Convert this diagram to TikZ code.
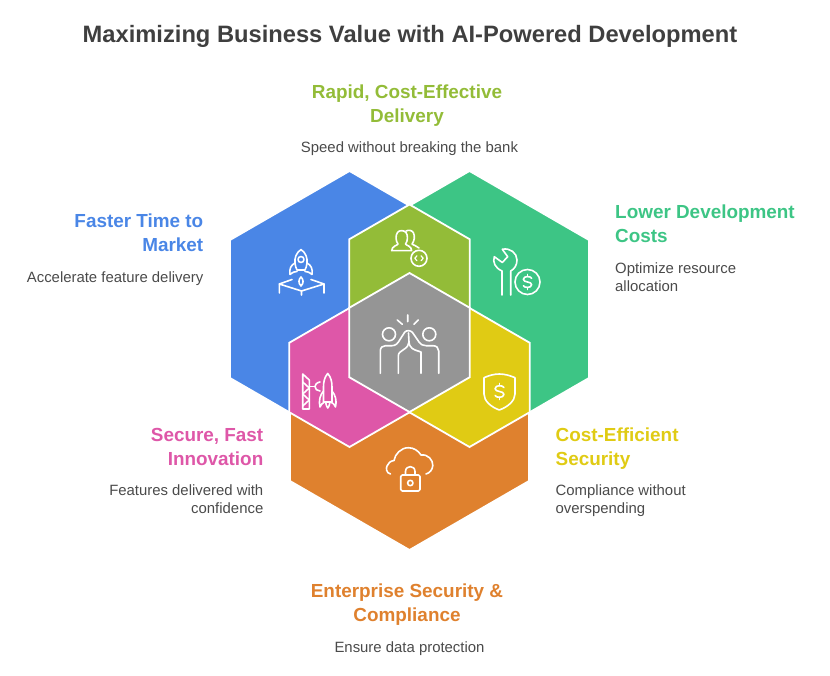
\documentclass[tikz,border=0pt]{standalone}
\usepackage{fontspec}
\setmainfont{Liberation Sans}
\definecolor{cblue}{HTML}{4A86E6}
\definecolor{cgreen}{HTML}{3DC585}
\definecolor{colive}{HTML}{93BC38}
\definecolor{cgray}{HTML}{959595}
\definecolor{cyellow}{HTML}{E0CB14}
\definecolor{cpink}{HTML}{DE57A8}
\definecolor{corange}{HTML}{DF812E}
\definecolor{ctitle}{HTML}{3F3F3F}
\definecolor{cdesc}{HTML}{4A4A4A}
\newcommand{\hexcell}[4]{%
  \pgfmathsetmacro{\hw}{0.866*#3}%
  \pgfmathsetmacro{\hh}{0.5*#3}%
  \fill[#4,draw=white,line width=1.8pt,line join=miter]
    (#1,#2-#3) -- (#1+\hw,#2-\hh) -- (#1+\hw,#2+\hh) -- (#1,#2+#3)
    -- (#1-\hw,#2+\hh) -- (#1-\hw,#2-\hh) -- cycle;}
\newcommand{\dollarmark}[3]{% centre x, y, half height
  \begin{scope}[shift={(#1,#2)},scale=#3]
    \draw[icon] (0.55,-0.5) .. controls (0.45,-0.8) and (-0.55,-0.85) .. (-0.55,-0.35)
      .. controls (-0.55,0.1) and (0.55,-0.1) .. (0.55,0.35)
      .. controls (0.55,0.85) and (-0.45,0.8) .. (-0.55,0.5);
    \draw[icon] (0,-1) -- (0,-0.72) (0,0.72) -- (0,1);
  \end{scope}}
\tikzset{
  icon/.style={draw=white,line width=1.6pt,line cap=round,line join=round},
  titletext/.style={font=\fontsize{23.7}{28}\selectfont\bfseries,text=ctitle,inner sep=0pt,anchor=base},
  headtext/.style={font=\fontsize{18.9}{24}\selectfont\bfseries,inner sep=0pt},
  desctext/.style={font=\fontsize{14.9}{18}\selectfont,text=cdesc,inner sep=0pt}
}
\begin{document}
\begin{tikzpicture}[x=1pt,y=-1pt]
\useasboundingbox (0,0) rectangle (830,676);
% hexagons
\hexcell{349.5}{309}{138}{cblue}
\hexcell{469.5}{309}{138}{cgreen}
\hexcell{409.5}{412}{138}{corange}
\hexcell{409.5}{274}{69.5}{colive}
\hexcell{469.5}{377.5}{69.5}{cyellow}
\hexcell{349.5}{377.5}{69.5}{cpink}
\hexcell{409.5}{342.5}{69.5}{cgray}
% texts (multi-line nodes are placed by their last baseline)
\node[titletext] (title) at (410,43) {Maximizing Business Value with AI-Powered Development};
\node[headtext,text=colive,anchor=base,align=center] (h1) at (407,123) {Rapid, Cost-Effective\\Delivery};
\node[desctext,anchor=base] (d1) at (409.5,153) {Speed without breaking the bank};
\node[headtext,text=cblue,anchor=base east,align=right] (h2) at (203.5,252) {Faster Time to\\Market};
\node[desctext,anchor=base east] (d2) at (203.5,283) {Accelerate feature delivery};
\node[headtext,text=cgreen,anchor=base west,align=left] (h3) at (615,243) {Lower Development\\Costs};
\node[desctext,anchor=base west,align=left] (d3) at (615,292) {Optimize resource\\allocation};
\node[headtext,text=cpink,anchor=base east,align=right] (h4) at (263.5,465) {Secure, Fast\\Innovation};
\node[desctext,anchor=base east,align=right] (d4) at (263.5,513) {Features delivered with\\confidence};
\node[headtext,text=cyellow,anchor=base west,align=left] (h5) at (555.5,465) {Cost-Efficient\\Security};
\node[desctext,anchor=base west,align=left] (d5) at (555.5,513) {Compliance without\\overspending};
\node[headtext,text=corange,anchor=base,align=center] (h6) at (407,621) {Enterprise Security \&\\Compliance};
\node[desctext,anchor=base] (d6) at (409.5,652) {Ensure data protection};
% rocket icon
\draw[icon] (301,249.5) .. controls (296,253) and (294.5,258) .. (295,263) .. controls (295.3,266) and (296,268) .. (297,270) -- (305,270)
  .. controls (306,268) and (306.7,266) .. (307,263) .. controls (307.5,258) and (306,253) .. (301,249.5) -- cycle;
\draw[icon] (301,259.5) circle (3);
\draw[icon] (295,263) .. controls (291,265) and (289,269) .. (290,274.5) .. controls (293,272) and (295,271.5) .. (297,271.5);
\draw[icon] (307,263) .. controls (311,265) and (313,269) .. (312,274.5) .. controls (309,272) and (307,271.5) .. (305,271.5);
\draw[icon] (301,277) .. controls (298.5,279.5) and (298,283) .. (301,286) .. controls (304,283) and (303.5,279.5) .. (301,277) -- cycle;
\draw[icon] (279.3,293) -- (279.3,284) -- (301.5,291) -- (324,284) -- (324,293);
\draw[icon] (279.3,284) -- (292,279.5) (324,284) -- (311,279.5) (301.5,291) -- (301.5,295);
% users and code icon
\draw[icon] (391.7,250.7) -- (411.7,250.7) .. controls (411.7,246) and (406,245.5) .. (405.5,244)
  .. controls (408,241) and (408,235) .. (406,232.5) .. controls (404,230) and (399,230) .. (397.5,232.5)
  .. controls (395.5,235) and (395.5,241) .. (398,244) .. controls (397.5,245.5) and (391.7,246) .. (391.7,250.7) -- cycle;
\draw[icon] (406,231) .. controls (409,229.5) and (412.5,230.5) .. (413.5,233) .. controls (415,236) and (414.5,241) .. (412,244)
  .. controls (413,245) and (417,246) .. (419,248);
\draw[icon] (419,258.3) circle (8);
\draw[icon,line width=1.2pt] (417,255.8) -- (414.8,258.3) -- (417,260.8) (421,255.8) -- (423.2,258.3) -- (421,260.8);
% wrench and dollar icon
\draw[icon] (502,295) -- (502,271) .. controls (495,268) and (492.5,262) .. (494.3,256.7) -- (502.3,262.5) -- (507.7,256.7) -- (502.3,249.3)
  .. controls (510,247.5) and (517,253) .. (517,260) .. controls (517,265) and (514.5,269) .. (510.7,271) -- (510.7,295);
\draw[icon] (527.5,282) circle (12.5);
\dollarmark{527.5}{282}{7.5}
% high five icon
\draw[icon] (389,334.3) circle (6.5);
\draw[icon] (429.3,334.3) circle (6.5);
\draw[icon] (407.7,315) -- (407.7,321.7) (397.3,320) -- (402.3,324.3) (418.3,320) -- (414,324.3);
\draw[icon] (380.3,373.3) -- (380.3,351) .. controls (380.3,347.5) and (382.5,345.7) .. (385.5,345.7) -- (392,345.7)
  .. controls (396,345.7) and (398,343) .. (400,339.5) -- (404.5,332.5) .. controls (406,330) and (410.5,330) .. (412.5,332.5)
  -- (419,342) .. controls (420.5,344.5) and (423,345.7) .. (426,345.7) -- (433,345.7) .. controls (436.5,345.7) and (438.7,348) .. (438.7,351) -- (438.7,373.3);
\draw[icon] (398.3,373.3) -- (398.3,356) .. controls (398.3,352.5) and (401,351.5) .. (403,350) .. controls (407,347.5) and (409,345) .. (409,342) -- (408.5,333);
\draw[icon] (421,373.3) -- (421,352) -- (415,350) .. controls (411,348.5) and (409,345) .. (409,342);
% crane and rocket icon
\draw[icon] (302.7,409) -- (302.7,374) -- (309.3,380) -- (309.3,409) -- cycle;
\draw[icon] (302.7,382) -- (309.3,388) -- (302.7,394) -- (309.3,400) -- (302.7,406);
\draw[icon] (309.3,386.5) -- (315,386.5);
\draw[icon] (320,382) .. controls (316.5,382.5) and (315,385) .. (315,386.5) .. controls (315,389) and (317,391) .. (320,391);
\draw[icon] (327.7,373.5) .. controls (324.5,377) and (323.5,382) .. (323.5,387) -- (323.5,402) -- (332,402) -- (332,387) .. controls (332,382) and (331,377) .. (327.7,373.5) -- cycle;
\draw[icon] (323.5,391) .. controls (320,395) and (318.5,401) .. (320,407) .. controls (321,404.5) and (322.5,403) .. (324,402.5);
\draw[icon] (332,391) .. controls (335.5,395) and (337,401) .. (335.5,407) .. controls (334.5,404.5) and (333,403) .. (331.5,402.5);
\draw[icon] (325.8,403) .. controls (326,405) and (327,407) .. (327.8,408) .. controls (328.6,407) and (329.6,405) .. (329.8,403);
% shield icon
\draw[icon] (499.3,374) .. controls (494,374) and (489,375.5) .. (484,377.7) -- (484,394) .. controls (484,401) and (491,407) .. (499.3,410)
  .. controls (507.6,407) and (515,401) .. (515,394) -- (515,377.7) .. controls (510,375.5) and (504.5,374) .. (499.3,374) -- cycle;
\dollarmark{499.5}{391.5}{8}
% cloud and lock icon
\draw[icon] (390.5,474) .. controls (386,473) and (386,468) .. (387,466) .. controls (388,463) and (390.5,461) .. (394,460.5)
  .. controls (395,454) and (401,447.7) .. (408.5,447.7) .. controls (414,447.7) and (418.5,451) .. (421,455)
  .. controls (428,454) and (433,460) .. (432.8,465.5) .. controls (432.5,470) and (429.5,473) .. (426,474);
\draw[icon,rounded corners=1.5pt] (400.7,475) rectangle (420,491);
\draw[icon] (405.5,475) -- (405.5,471.5) .. controls (405.5,465) and (415,465) .. (415,471.5) -- (415,475);
\draw[icon] (410.3,483) circle (2.7);
\end{tikzpicture}
\end{document}
